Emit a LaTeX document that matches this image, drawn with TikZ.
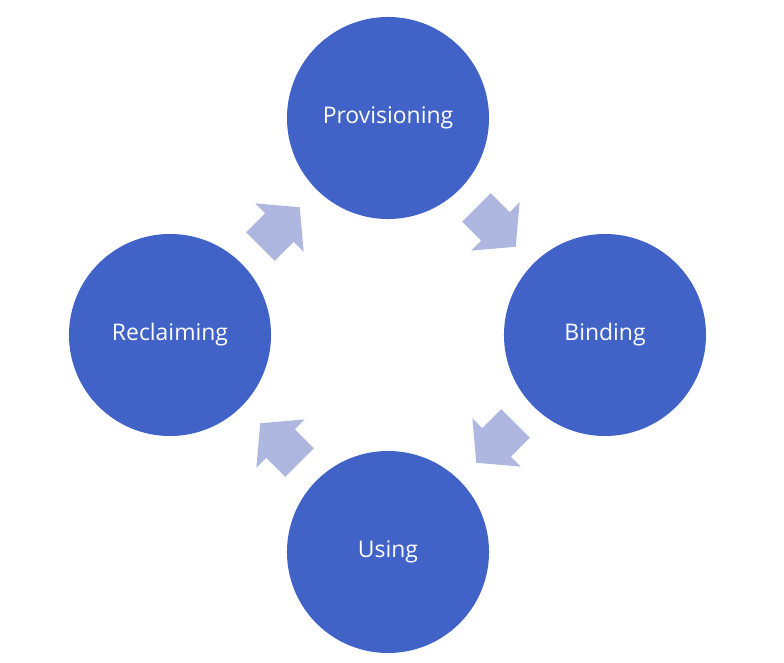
\documentclass[tikz,border=0pt]{standalone}
\usepackage{fontspec}
\setmainfont{Open Sans}
\usepackage{xcolor}
\usetikzlibrary{shapes,arrows,positioning,calc}

\definecolor{phaseblue}{HTML}{4163C8}
\definecolor{flowblue}{HTML}{AEB7E0}

\begin{document}
\begin{tikzpicture}[x=0.025cm, y=-0.025cm,
	phase/.style={circle, fill=phaseblue, text=white, minimum size=5.05cm, inner sep=0pt, font=\fontsize{16.3}{20}\selectfont},
	flow/.style={single arrow, fill=flowblue, minimum height=1.39cm, single arrow head extend=0.35cm, single arrow tip angle=100, inner xsep=0pt, inner ysep=0.5cm, anchor=tip}]
				\useasboundingbox (0,0) rectangle (784,663);
				\coordinate (mid) at (388,335);
				
				\node[phase] (prov) at (388,118) {\raisebox{-3pt}{Provisioning}};
				\node[phase] (bind) at (605,335) {\raisebox{-3pt}{Binding}};
				\node[phase] (use) at (388,552) {\raisebox{-3pt}{Using}};
				\node[phase] (recl) at (170,335) {\raisebox{-3pt}{Reclaiming}};
				
				% arrows between the phases
				\node[flow, rotate=-45] (provbind) at ($(mid)+(128,-88)$) {};
				\node[flow, rotate=-135] (binduse) at ($(mid)+(88,128)$) {};
				\node[flow, rotate=135] (userecl) at ($(mid)+(-128,88)$) {};
				\node[flow, rotate=45] (reclprov) at ($(mid)+(-88,-128)$) {};
			\end{tikzpicture}
\end{document}
